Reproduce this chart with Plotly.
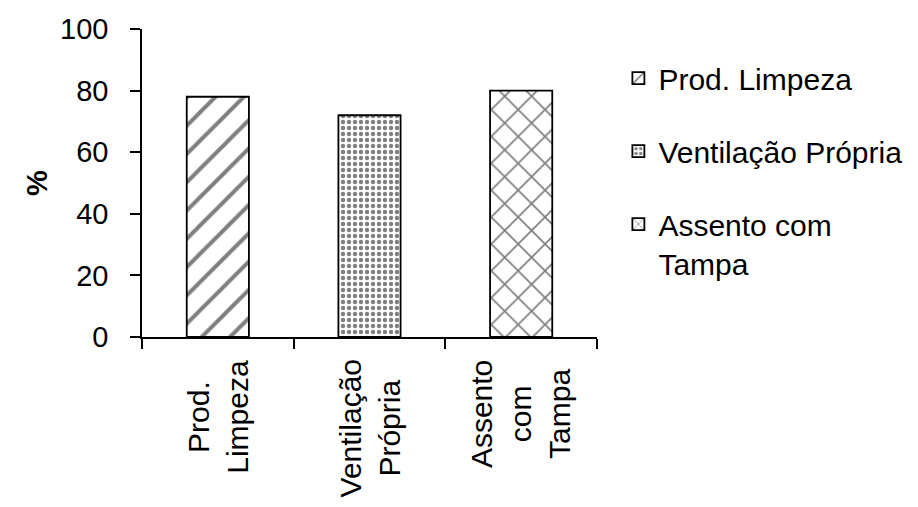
import plotly.graph_objects as go

categories = ["Prod. Limpeza", "Ventilação Própria", "Assento com Tampa"]
values = [78, 72, 80]
legend_names = ["Prod. Limpeza", "Ventilação Própria", "Assento com<br>Tampa"]
tick_labels = ["Prod.<br>Limpeza", "Ventilação<br>Própria", "Assento<br>com<br>Tampa"]
y_ticks = [0, 20, 40, 60, 80, 100]
patterns = [
    dict(shape="/", size=20, solidity=0.2),
    dict(shape=".", size=6, solidity=0.42),
    dict(shape="x", size=19, solidity=0.17),
]

FONT = "Liberation Sans, Arial, sans-serif"

fig = go.Figure()
for i, (cat, val, nm, pat) in enumerate(zip(categories, values, legend_names, patterns)):
    fig.add_trace(go.Bar(
        x=[cat], y=[val], name=nm, width=0.41,
        legendgroup=f"g{i}",
        marker=dict(color="white",
                    line=dict(color="black", width=1.8),
                    pattern=dict(fgcolor="black", bgcolor="white", fillmode="overlay", **pat)),
    ))

for cat, lab in zip(categories, tick_labels):
    fig.add_annotation(x=cat, xref="x", y=-0.068, yref="paper", text=lab,
                       textangle=-90, showarrow=False, align="center",
                       xanchor="center", yanchor="top",
                       font=dict(family=FONT, size=30, color="black"))

fig.add_annotation(x=-0.231, xref="paper", y=0.5, yref="paper", text="<b>%</b>",
                   textangle=-90, showarrow=False, xanchor="center", yanchor="middle",
                   font=dict(family=FONT, size=29, color="black"))

fig.update_layout(
    width=918, height=507,
    margin=dict(l=142, r=321, t=29, b=170, autoexpand=False),
    paper_bgcolor="white", plot_bgcolor="white",
    barmode="overlay",
    font=dict(family=FONT, size=30, color="black"),
    showlegend=True,
    legend=dict(x=1.047, xanchor="left", y=0.925, yanchor="top", valign="top",
                font=dict(family=FONT, size=30, color="black"),
                tracegroupgap=31, bgcolor="rgba(0,0,0,0)"),
    xaxis=dict(showticklabels=False, tickson="boundaries", ticks="outside",
               ticklen=10, tickwidth=1.5, tickcolor="black", showline=True,
               linecolor="black", linewidth=1.5, showgrid=False, zeroline=False),
    yaxis=dict(range=[0, 100], tickvals=y_ticks, ticks="outside", ticklen=10,
               tickwidth=1.5, tickcolor="black", showline=True, linecolor="black",
               linewidth=1.5, showgrid=False, zeroline=False, ticklabelstandoff=16,
               tickfont=dict(family=FONT, size=29, color="black")),
)

fig.write_html("out.html", config={"displayModeBar": False},
               post_script="document.body.style.margin='0';")
